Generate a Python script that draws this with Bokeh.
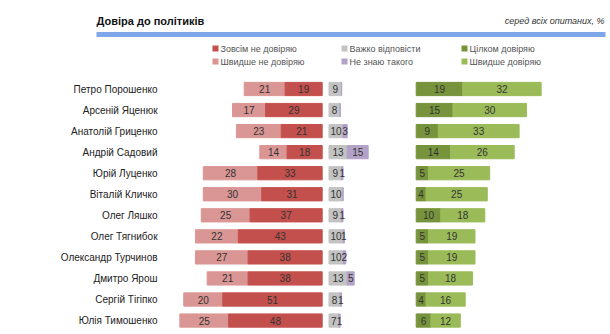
from bokeh.plotting import figure
from bokeh.models import Range1d, ColumnDataSource
from bokeh.core.properties import value
from bokeh.embed import file_html
from bokeh.resources import INLINE
import numpy as np

# ---------------- data ----------------
names = ["Петро Порошенко", "Арсеній Яценюк", "Анатолій Гриценко", "Андрій Садовий",
         "Юрій Луценко", "Віталій Кличко", "Олег Ляшко", "Олег Тягнибок",
         "Олександр Турчинов", "Дмитро Ярош", "Сергій Тігіпко", "Юлія Тимошенко"]
distrust_full = [19, 29, 21, 18, 33, 31, 37, 43, 38, 38, 51, 48]      # Зовсім не довіряю
distrust_rather = [21, 17, 23, 14, 28, 30, 25, 22, 27, 21, 20, 25]    # Швидше не довіряю
hard_to_say = [9, 8, 10, 13, 9, 10, 9, 10, 10, 13, 8, 7]              # Важко відповісти
dont_know = [0, 0, 3, 15, 1, 0, 1, 1, 2, 5, 1, 1]                     # Не знаю такого
trust_full = [19, 15, 9, 14, 5, 4, 10, 5, 5, 5, 4, 6]                 # Цілком довіряю
trust_rather = [32, 30, 33, 26, 25, 25, 18, 19, 19, 18, 16, 12]       # Швидше довіряю

title_text = "Довіра до політиків"
subtitle_text = "серед всіх опитаних, %"
legend_labels = [["Зовсім не довіряю", "Швидше не довіряю"],
                 ["Важко відповісти", "Не знаю такого"],
                 ["Цілком довіряю", "Швидше довіряю"]]

# ---------------- style ----------------
C_RED_D = "#c4504d"
C_RED_L = "#da9694"
C_GRAY = "#c3c3c3"
C_PURP = "#b3a2c7"
C_GRN_D = "#77933c"
C_GRN_L = "#9bbb59"
legend_colors = [[C_RED_D, C_RED_L], [C_GRAY, C_PURP], [C_GRN_D, C_GRN_L]]
FONT = "Liberation Sans"
W, H = 610, 334

n = len(names)
rows = np.arange(n)
df = lambda a: np.array(a, dtype=float)
dfull, drath = df(distrust_full), df(distrust_rather)
hard, dk = df(hard_to_say), df(dont_know)
tfull, trath = df(trust_full), df(trust_rather)

row0_px, row_step = 88.5, 21.05
p = figure(width=W, height=H, output_backend="svg", toolbar_location=None,
           x_axis_location=None, y_axis_location=None,
           x_range=Range1d(0, W),
           y_range=Range1d((H - row0_px) / row_step, -row0_px / row_step),
           min_border=0, outline_line_color=None)
p.background_fill_color = "white"
p.border_fill_color = "white"
p.xgrid.visible = False
p.ygrid.visible = False

def rng(zero_px, px_per_unit):
    return Range1d(-zero_px / px_per_unit, (W - zero_px) / px_per_unit)

p.extra_x_ranges = {"red": rng(321.7, 1.95), "gray": rng(328.5, 1.4), "green": rng(415.7, 2.45)}
p.extra_y_ranges = {"page": Range1d(H, 0)}

BH = 0.63
src = ColumnDataSource(dict(
    y=rows, name=names,
    rf_l=-dfull, rf_r=np.zeros(n), rr_l=-(dfull + drath), rr_r=-dfull,
    g_l=np.zeros(n), g_r=hard, p_l=hard, p_r=hard + dk,
    tf_l=np.zeros(n), tf_r=tfull, tr_l=tfull, tr_r=tfull + trath,
))

p.hbar(y="y", left="rr_l", right="rr_r", height=BH, color=C_RED_L, source=src, x_range_name="red")
p.hbar(y="y", left="rf_l", right="rf_r", height=BH, color=C_RED_D, source=src, x_range_name="red")
p.hbar(y="y", left="g_l", right="g_r", height=BH, color=C_GRAY, source=src, x_range_name="gray")
p.hbar(y="y", left="p_l", right="p_r", height=BH, color=C_PURP, source=src, x_range_name="gray")
p.hbar(y="y", left="tf_l", right="tf_r", height=BH, color=C_GRN_D, source=src, x_range_name="green")
p.hbar(y="y", left="tr_l", right="tr_r", height=BH, color=C_GRN_L, source=src, x_range_name="green")

def seg_labels(left, right, vals, rname):
    mask = vals > 0
    s = ColumnDataSource(dict(x=((left + right) / 2)[mask], y=rows[mask],
                              t=[str(int(v)) for v in vals[mask]]))
    p.text(x="x", y="y", text="t", source=s, x_range_name=rname,
           text_align="center", text_baseline="middle", text_font=value(FONT),
           text_font_size="10px", text_color="#333333")

seg_labels(-(dfull + drath), -dfull, drath, "red")
seg_labels(-dfull, np.zeros(n), dfull, "red")
seg_labels(np.zeros(n), hard, hard, "gray")
seg_labels(hard, hard + dk, dk, "gray")
seg_labels(np.zeros(n), tfull, tfull, "green")
seg_labels(tfull, tfull + trath, trath, "green")

# category names
p.text(x=157, y="y", text="name", source=src, text_align="right", text_baseline="middle",
       text_font=value(FONT), text_font_size="10px", text_color="#222222")

# title, subtitle, rule
p.text(x=[96], y=[20], text=[title_text], y_range_name="page", text_align="left",
       text_baseline="middle", text_font=value(FONT),
       text_font_size="11px", text_font_style="bold", text_color="#111111")
p.text(x=[604], y=[20], text=[subtitle_text], y_range_name="page", text_align="right",
       text_baseline="middle", text_font=value(FONT),
       text_font_size="9px", text_font_style="italic", text_color="#333333")
p.quad(left=[96], right=[605], top=[31.5], bottom=[36.5], y_range_name="page",
       color="#7ea6e8", line_color=None)

# legend
leg_x = [212, 341, 461]
leg_y = [48, 61]
for ci, x0 in enumerate(leg_x):
    p.scatter(x=[x0 + 3] * 2, y=leg_y, marker="square", size=6,
              color=legend_colors[ci], line_color=None, y_range_name="page")
    p.text(x=[x0 + 8] * 2, y=leg_y, text=legend_labels[ci], y_range_name="page",
           text_align="left", text_baseline="middle", text_font=value(FONT),
           text_font_size="9px", text_color="#555555")

open("out.html", "w").write(file_html(p, INLINE))
